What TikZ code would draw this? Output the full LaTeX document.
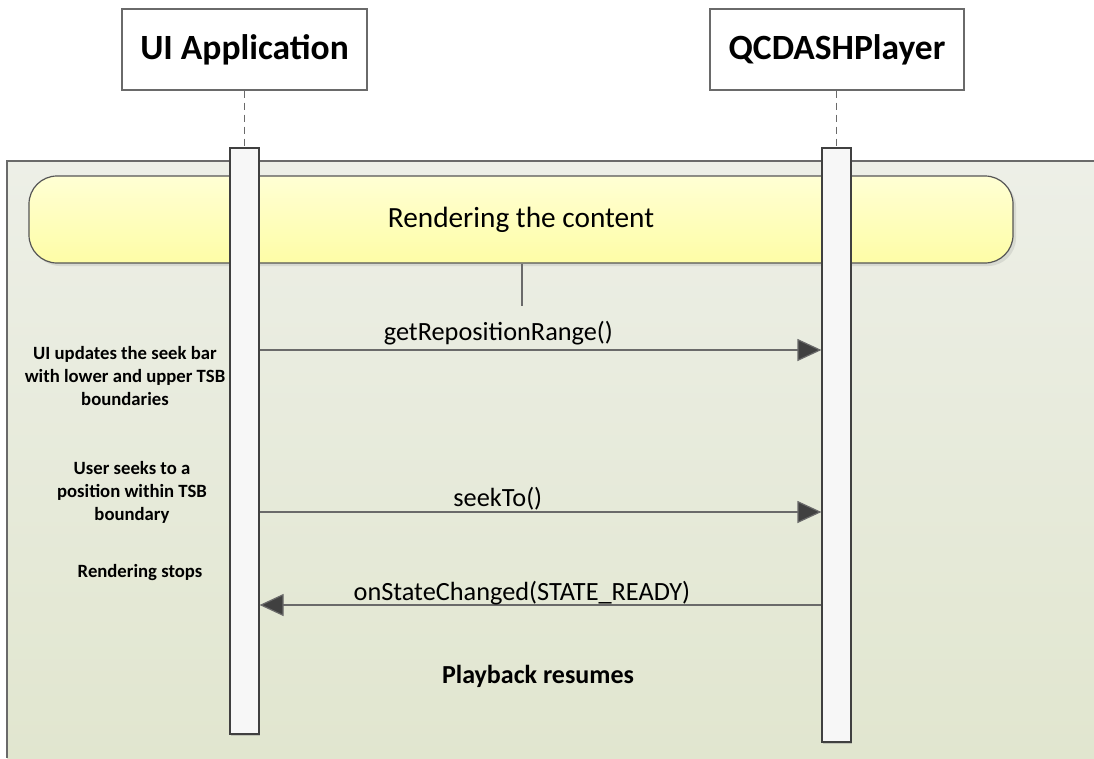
\documentclass[tikz,border=0pt]{standalone}
\usepackage{fontspec}
\setmainfont{Carlito}
\usetikzlibrary{shadows,arrows.meta}
\definecolor{frameTop}{HTML}{EDEFE7}
\definecolor{frameBot}{HTML}{E1E6CF}
\definecolor{noteTop}{HTML}{FFFFD4}
\definecolor{noteBot}{HTML}{FEFDA6}
\definecolor{lineGray}{HTML}{6A6A6A}
\definecolor{headGray}{HTML}{404040}
\definecolor{barFill}{HTML}{F7F7F7}
\tikzset{
  actor/.style={draw=lineGray, line width=1.2pt, fill=white, minimum width=245pt, minimum height=81pt, inner sep=0pt, font=\fontsize{35.5}{40}\selectfont\bfseries},
  actbar/.style={draw=headGray, line width=1.2pt, fill=barFill, minimum width=29pt, inner sep=0pt, drop shadow={shadow xshift=1pt, shadow yshift=-1.5pt, opacity=0.35}},
  lifeline/.style={draw=lineGray, line width=1.2pt, dash pattern=on 7pt off 5pt},
  msg/.style={draw=lineGray, line width=1.2pt, -{Triangle[length=24pt, width=22pt, fill=headGray]}},
  msglabel/.style={font=\fontsize{26.3}{30}\selectfont, inner sep=0pt, anchor=base},
  sidenote/.style={font=\fontsize{18.7}{23}\selectfont\bfseries, align=center, inner sep=0pt},
}
\begin{document}
\begin{tikzpicture}[x=1pt, y=-1pt]
\useasboundingbox (0,0) rectangle (1094,758);
\fill[white] (0,0) rectangle (1094,758);
% frame
\shade[top color=frameTop, bottom color=frameBot] (7,161) rectangle (1094,758);
\draw[lineGray, line width=1.2pt] (7,758) -- (7,161) -- (1094,161);
% actors
\node[actor] (ui) at (244.5,49.5) {UI Application};
\node[actor, minimum width=254pt] (qc) at (837,49.5) {QCDASHPlayer};
% yellow rounded note
\node[draw=lineGray!80!black, line width=1.2pt, rounded corners=28pt, top color=noteTop, bottom color=noteBot,
      minimum width=984pt, minimum height=87pt, inner sep=0pt,
      drop shadow={shadow xshift=3pt, shadow yshift=-3pt, opacity=0.18},
      font=\fontsize{29.3}{33}\selectfont] (rend) at (521,219.5) {Rendering the content};
\coordinate (tick) at (522,306);
\draw[lineGray, line width=1.2pt] (rend.south -| tick) -- (tick);
% activation bars
\node[actbar, minimum height=586pt] (uibar) at (244.5,441) {};
\node[actbar, minimum height=594pt] (qcbar) at (836.5,445) {};
% lifelines
\draw[lifeline] (ui.south) -- (uibar.north);
\draw[lifeline] (qc.south -| qcbar.north) -- (qcbar.north);
% messages
\coordinate (m1) at (0,350);
\coordinate (m2) at (0,512);
\coordinate (m3) at (0,605);
\draw[msg] (uibar.east |- m1) -- (qcbar.west |- m1) node[msglabel, pos=0.425, yshift=10pt] (l1) {getRepositionRange()};
\draw[msg] (uibar.east |- m2) -- (qcbar.west |- m2) node[msglabel, pos=0.424, yshift=6pt] (l2) {seekTo()};
\draw[msg] (qcbar.west |- m3) -- (uibar.east |- m3) node[msglabel, pos=0.533, yshift=5pt] (l3) {onStateChanged(STATE\_READY)};
% side notes
\node[sidenote] (n1) at (125,376) {UI updates the seek bar\\with lower and upper TSB\\boundaries};
\node[sidenote] (n2) at (132,492) {User seeks to a\\position within TSB\\boundary};
\node[sidenote] (n3) at (140,573) {Rendering stops};
\node[font=\fontsize{26}{30}\selectfont\bfseries, inner sep=0pt] (pb) at (538,676) {Playback resumes};
\end{tikzpicture}
\end{document}
